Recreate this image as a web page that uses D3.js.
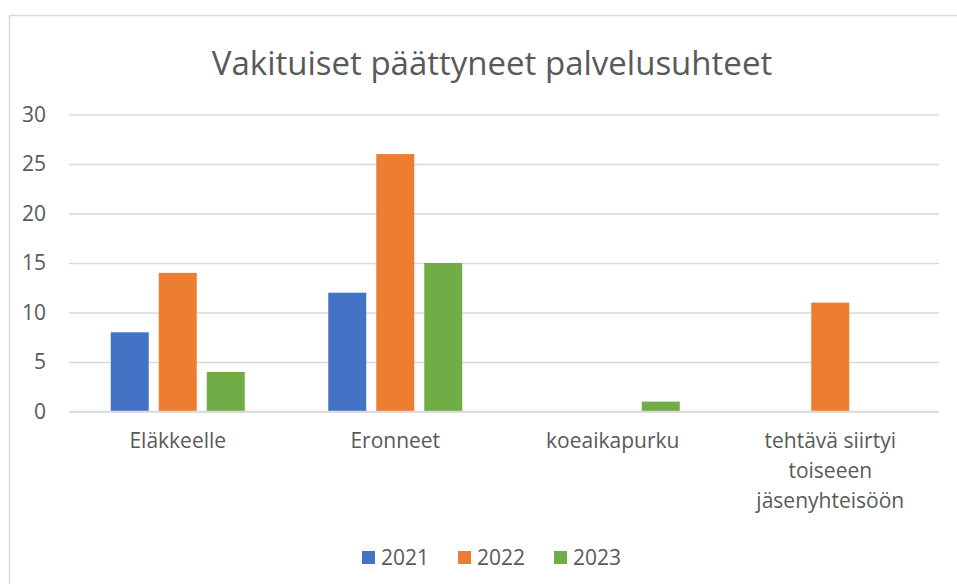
<!DOCTYPE html>
<html>
<head>
<meta charset="utf-8">
<script src="https://cdn.jsdelivr.net/npm/d3@7"></script>
<style>
  body { margin: 0; background: #fff; }
  text { font-family: "Open Sans", Lato, sans-serif; fill: #595959; }
</style>
</head>
<body>
<div id="chart-area"></div>
<script>
// Datos
const categories = ["Eläkkeelle", "Eronneet", "koeaikapurku", "tehtävä siirtyi toiseeen jäsenyhteisöön"];
const years = ["2021", "2022", "2023"];
const values2021 = [8, 12, 0, 0];
const values2022 = [14, 26, 0, 11];
const values2023 = [4, 15, 1, 0];
const yTicks = [0, 5, 10, 15, 20, 25, 30];
const colors = ["#4472C4", "#ED7D31", "#70AD47"];

const seriesValues = [values2021, values2022, values2023];
const data = categories.map((c, i) => ({
    name: c,
    values: years.map((y, j) => ({ year: y, value: seriesValues[j][i] }))
}));

const width = 957;
const height = 584;
const margin = { top: 114.5, right: 18, bottom: 172.5, left: 69 };
const plotW = width - margin.left - margin.right;
const plotH = height - margin.top - margin.bottom;
const fontFamily = "'Open Sans', Lato, sans-serif";

const svg = d3.select("#chart-area")
    .append("svg")
    .attr("width", width)
    .attr("height", height);

// Marco del gráfico
svg.append("rect")
    .attr("x", 9.5)
    .attr("y", 15.5)
    .attr("width", 980)
    .attr("height", 600)
    .attr("fill", "none")
    .attr("stroke", "#D9D9D9")
    .attr("stroke-width", 1.5);

// Título
svg.append("text")
    .attr("x", 492)
    .attr("y", 75)
    .attr("text-anchor", "middle")
    .attr("font-size", "33px")
    .text("Vakituiset päättyneet palvelusuhteet");

const g = svg.append("g")
    .attr("transform", `translate(${margin.left}, ${margin.top})`);

// Escalas
const x0 = d3.scaleBand()
    .domain(categories)
    .range([0, plotW]);

const step = 48, inner = 10 / 48;
const outer = (x0.bandwidth() / step - (years.length - inner)) / 2;
const x1 = d3.scaleBand()
    .domain(years)
    .range([0, x0.bandwidth()])
    .paddingInner(inner)
    .paddingOuter(outer);

const y = d3.scaleLinear()
    .domain([0, 30])
    .range([plotH, 0]);

const color = d3.scaleOrdinal()
    .domain(years)
    .range(colors);

// Líneas de cuadrícula
const leftAxis = d3.axisLeft(y).tickValues(yTicks).tickSize(-plotW).tickPadding(23);
const yAxis = g.append("g")
    .attr("class", "left axis")
    .call(leftAxis);
yAxis.select(".domain").remove();
yAxis.selectAll("line")
    .attr("stroke", "#D9D9D9")
    .attr("stroke-width", 1.5);
yAxis.selectAll("text")
    .attr("font-size", "21px")
    .attr("fill", "#595959")
    .style("font-family", fontFamily);

// Rectángulos
const groups = g.selectAll(".cat")
    .data(data)
    .enter()
    .append("g")
    .attr("class", "cat")
    .attr("transform", d => `translate(${x0(d.name)}, 0)`);

groups.selectAll("rect")
    .data(d => d.values)
    .enter()
    .append("rect")
    .attr("x", d => x1(d.year))
    .attr("y", d => y(d.value))
    .attr("width", x1.bandwidth())
    .attr("height", d => plotH - y(d.value))
    .attr("fill", d => color(d.year));

// Eje X (línea base)
g.append("line")
    .attr("x1", 0)
    .attr("x2", plotW)
    .attr("y1", plotH)
    .attr("y2", plotH)
    .attr("stroke", "#D9D9D9")
    .attr("stroke-width", 1.5);

// Etiquetas de categorías con ajuste de línea
function wrapLines(text, maxW, fontSize) {
    const tmp = svg.append("text").attr("font-size", fontSize);
    const words = text.split(" ");
    const lines = [];
    let line = "";
    words.forEach(w => {
        const test = line ? line + " " + w : w;
        tmp.text(test);
        if (tmp.node().getComputedTextLength() > maxW && line) {
            lines.push(line);
            line = w;
        } else {
            line = test;
        }
    });
    lines.push(line);
    tmp.remove();
    return lines;
}

categories.forEach(c => {
    const lines = wrapLines(c, 160, "21px");
    const t = g.append("text")
        .attr("x", x0(c) + x0.bandwidth() / 2)
        .attr("y", plotH + 36)
        .attr("text-anchor", "middle")
        .attr("font-size", "21px");
    lines.forEach((l, i) => {
        t.append("tspan")
            .attr("x", x0(c) + x0.bandwidth() / 2)
            .attr("dy", i === 0 ? 0 : 30)
            .text(l);
    });
});

// Leyenda
const legendX = [362, 458, 554];
const legend = svg.append("g").attr("class", "legend");
years.forEach((yr, i) => {
    legend.append("rect")
        .attr("x", legendX[i])
        .attr("y", 551)
        .attr("width", 13)
        .attr("height", 13)
        .attr("fill", color(yr));
    legend.append("text")
        .attr("x", legendX[i] + 19)
        .attr("y", 565)
        .attr("font-size", "21px")
        .text(yr);
});
</script>
</body>
</html>
